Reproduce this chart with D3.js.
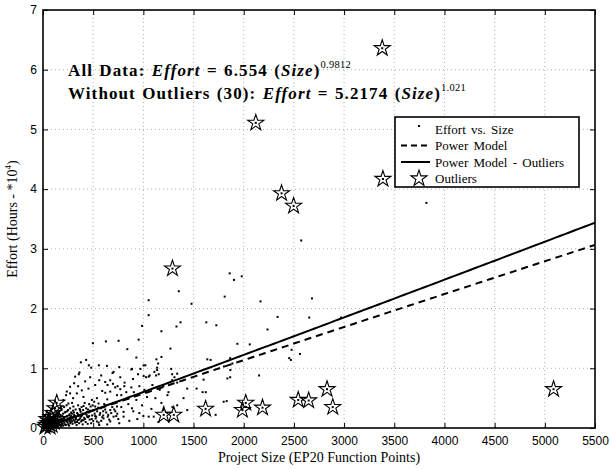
<!DOCTYPE html>
<head>
<meta charset="utf-8">
<style>
    body { margin: 0; background: #fff; }
    .tick text { font-family: "Liberation Sans", Arial, sans-serif; font-size: 12px; fill: #000; }
    .serif { font-family: "Liberation Serif", "Times New Roman", serif; fill: #000; }
</style>
</head>
<body>
    <script src="https://d3js.org/d3.v7.min.js"></script>
    <script>

    ///////////////////////////
    ////////// SETUP //////////
    ///////////////////////////

    const margin = { top: 10, right: 15, bottom: 42, left: 43 };
    const width = 610 - margin.left - margin.right;
    const height = 470 - margin.top - margin.bottom;

    let svg = d3.select('body').append('svg')
        .attr('width', 610)
        .attr('height', 470);
    let base = svg.append('g')
        .attr('transform', 'translate(' + margin.left + ',' + margin.top + ')');

    //////////////////////////
    ////////// DATA //////////
    //////////////////////////

    // x ticks (function points) and y ticks (hours * 10^4)
    const xTicks = [0, 500, 1000, 1500, 2000, 2500, 3000, 3500, 4000, 4500, 5000, 5500];
    const yTicks = [0, 1, 2, 3, 4, 5, 6, 7];

    // effort vs size, [size, effort in 10^4 hours]
    const projects = [
        [1053,2.14],[1053,1.89],[1480,2.08],[1330,1.70],[1370,1.77],[1627,1.77],[1727,1.72],[987,1.71],
        [1180,1.62],[497,1.42],[627,1.45],[753,1.46],[953,1.48],[1270,1.33],[840,1.32],[930,1.18],
        [1020,1.05],[1130,1.15],[1180,1.19],[377,1.10],[430,1.14],[457,1.05],[557,1.05],[637,1.04],
        [1353,2.29],[1810,2.20],[1860,2.59],[1903,2.48],[1980,2.54],[2573,3.14],[2680,2.17],[2167,2.12],
        [2337,1.86],[2653,1.85],[2970,1.85],[2237,1.65],[2060,1.40],[1937,1.41],[2477,1.31],[2453,1.17],
        [2470,1.14],[2560,1.24],[2153,0.88],[1637,1.15],[1865,1.17],[1867,0.97],[1600,0.81],[1865,0.85],
        [1590,0.60],[1622,0.60],[1800,0.44],[1830,0.45],[1887,1.08],[3820,3.77],[1670,1.14],[1803,1.03],
        [1837,0.83],[1720,0.22],[1437,0.66],[1337,0.38],[1437,0.30],[1530,0.66],[1053,0.19],[1103,0.19],
        [1003,1.05],[970,0.99],[887,0.99],[1147,1.08],[1137,1.01],[1137,0.97],[1153,0.90],[1127,0.88],
        [1277,0.99],[1310,0.85],[1287,0.90],[1063,0.88],[1027,0.85],[703,0.94],[770,0.85],[880,0.98],
        [947,0.90],[1053,0.86],[1110,0.94],[1337,0.91],[1287,0.80],[320,0.86],[363,0.93],[310,0.75],
        [480,1.01],[620,0.77],[670,0.80],[720,0.68],[770,0.65],[810,0.70],[880,0.68],[620,0.59],
        [670,0.61],[737,0.55],[853,0.50],[930,0.47],[1037,0.52],[1120,0.50],[1163,0.64],[1337,0.76],
        [987,0.38],[887,0.33],[803,0.27],[737,0.36],[670,0.30],[570,0.25],[553,0.41],[537,0.50],
        [487,0.47],[403,0.52],[387,0.63],[453,0.66],[520,0.72],[237,0.61],[270,0.69],[337,0.58],
        [203,0.47],[253,0.41],[303,0.36],[370,0.30],[437,0.27],[503,0.30],[603,0.16],[703,0.19],
        [803,0.19],[670,0.11],[537,0.11],[403,0.13],[303,0.19],[357,0.90],[693,0.92],[643,0.72],
        [697,0.74],[743,0.70],[813,0.76],[897,0.82],[1003,0.87],[270,0.58],[230,0.55],
        [580,0.88],[760,1.02],[905,0.60],[960,0.70],[1010,0.64],[1090,0.72],[1200,0.70],[1240,0.55],
        [1180,0.42],[1080,0.32],[960,0.25],[850,0.40],[760,0.45],[640,0.48],[590,0.62],[560,0.80],
        [470,0.85],[420,0.78],[350,0.70],[300,0.50],[460,0.40],[520,0.36],[620,0.38],[700,0.42],
        [780,0.55],[830,0.60],[1250,0.60],[1290,0.35],[1400,0.50],[1200,0.30],[940,0.15],[860,0.12],
        [760,0.08],[640,0.06],[560,0.05],[480,0.08],[450,0.18],[520,0.20],[600,0.28],[650,0.22],
        [720,0.28],[780,0.35],[900,0.28],[1000,0.20],[1150,0.10],
        [10,0.02],[15,0.05],[20,0.01],[25,0.08],[30,0.03],[35,0.12],[40,0.06],[45,0.02],[50,0.10],
        [55,0.04],[60,0.15],[65,0.07],[70,0.01],[75,0.11],[80,0.05],[85,0.18],[90,0.09],[95,0.03],
        [100,0.13],[105,0.06],[110,0.21],[115,0.10],[120,0.02],[125,0.16],[130,0.08],[135,0.25],
        [140,0.12],[145,0.04],[150,0.19],[155,0.09],[160,0.28],[165,0.14],[170,0.05],[175,0.22],
        [180,0.11],[185,0.32],[190,0.16],[195,0.07],[200,0.24],[205,0.13],[210,0.35],[215,0.18],
        [220,0.06],[225,0.27],[230,0.12],[235,0.38],[240,0.20],[245,0.09],[250,0.30],[255,0.15],
        [260,0.04],[265,0.23],[270,0.33],[275,0.10],[280,0.26],[285,0.17],[290,0.42],[295,0.07],
        [300,0.29],[305,0.14],[310,0.22],[320,0.09],[325,0.31],[330,0.18],[335,0.05],[340,0.25],
        [345,0.13],[350,0.38],[355,0.20],[360,0.08],[370,0.16],[375,0.27],[380,0.11],[385,0.35],
        [390,0.21],[395,0.06],[400,0.30],[410,0.17],[415,0.42],[420,0.24],[425,0.10],[430,0.33],
        [440,0.19],[445,0.07],[455,0.26],[465,0.14],[475,0.36],[490,0.21],[500,0.12],[510,0.44],
        [525,0.16],[540,0.28],[555,0.09],[575,0.33],[590,0.18],[610,0.40],[630,0.26],[660,0.14],
        [690,0.35],[730,0.20],[750,0.15],
        [5,0.01],[12,0.03],[18,0.06],[22,0.02],[28,0.04],[33,0.07],[38,0.01],[42,0.09],[48,0.05],
        [52,0.02],[58,0.08],[62,0.03],[68,0.12],[72,0.05],[78,0.09],[82,0.02],[88,0.06],[92,0.14],
        [98,0.08],[102,0.03],[108,0.10],[112,0.05],[118,0.13],[122,0.07],[128,0.03],[132,0.11],
        [138,0.06],[142,0.16],[148,0.09],[152,0.02],[158,0.13],[162,0.06],[168,0.18],[172,0.10],
        [178,0.03],[182,0.14],[188,0.07],[192,0.20],[198,0.11],[202,0.04],[208,0.16],[212,0.09],
        [218,0.26],[222,0.14],[228,0.05],[232,0.19],[238,0.11],[242,0.28],[248,0.16],[252,0.06],
        [258,0.21],[262,0.12],[268,0.17],[272,0.08],[278,0.20],[282,0.13],[288,0.24],[292,0.11],
        [298,0.18],[308,0.26],[315,0.12],[318,0.20],[328,0.15],[338,0.10],[348,0.23],[358,0.14],
        [365,0.32],[378,0.19],[388,0.13],[398,0.24],[405,0.37],[418,0.15],[435,0.22],[448,0.31],
        [460,0.20],[470,0.29],[485,0.15],[495,0.38],[515,0.24],[530,0.19],[550,0.34],[565,0.22],
        [580,0.12],[600,0.21],[620,0.31],[645,0.19],[680,0.25],[710,0.31],[740,0.24]
    ];

    // the 30 outliers
    const outliers = [
        [3380,6.36],[2120,5.11],[2377,3.93],[2497,3.72],[3387,4.17],[1290,2.67],[5087,0.65],
        [2020,0.42],[1987,0.30],[2187,0.34],[2543,0.47],[2647,0.46],[2830,0.65],[2887,0.35],
        [1203,0.22],[1303,0.22],[1620,0.32],
        [137,0.42],[120,0.33],[100,0.25],[80,0.18],[60,0.12],[140,0.15],[30,0.05],[50,0.08],
        [90,0.05],[110,0.10],[70,0.02],[20,0.02],[40,0.15]
    ];

    // power models: effort (hours) = a * size^b
    const modelNames = ['Power Model', 'Power Model - Outliers'];
    const modelCoef = [6.554, 5.2174];
    const modelExp = [0.9812, 1.021];
    const modelSizes = d3.range(0, 5501, 50);

    //////////////////////////
    ////////// DRAW //////////
    //////////////////////////

    const x = d3.scaleLinear().domain([0, 5500]).range([0, width]);
    const y = d3.scaleLinear().domain([0, 7]).range([height, 0]);

    // grid
    base.append('g').selectAll('line').data(xTicks.slice(1, -1)).join('line')
        .attr('x1', d => x(d)).attr('x2', d => x(d))
        .attr('y1', 0).attr('y2', height)
        .attr('stroke', '#999').attr('stroke-width', 0.8).attr('stroke-dasharray', '1,3');
    base.append('g').selectAll('line').data(yTicks.slice(1, -1)).join('line')
        .attr('y1', d => y(d)).attr('y2', d => y(d))
        .attr('x1', 0).attr('x2', width)
        .attr('stroke', '#999').attr('stroke-width', 0.8).attr('stroke-dasharray', '1,3');

    // axes, matlab style ticks inward
    let xAxis = base.append('g').attr('transform', 'translate(0,' + height + ')')
        .call(d3.axisBottom(x).tickValues(xTicks).tickFormat(d3.format('d'))
            .tickSizeInner(-5).tickSizeOuter(0).tickPadding(8));
    let yAxis = base.append('g')
        .call(d3.axisLeft(y).tickValues(yTicks).tickFormat(d3.format('d'))
            .tickSizeInner(-5).tickSizeOuter(0).tickPadding(6));
    base.append('g').attr('transform', 'translate(' + width + ',0)')
        .call(d3.axisRight(y).tickValues(yTicks).tickSizeInner(-5).tickSizeOuter(0).tickFormat(''));
    base.append('g')
        .call(d3.axisTop(x).tickValues(xTicks).tickSizeInner(-5).tickSizeOuter(0).tickFormat(''));
    base.selectAll('.domain').remove();
    base.selectAll('.tick line').attr('stroke', '#000');
    base.append('rect')
        .attr('width', width).attr('height', height)
        .attr('fill', 'none').attr('stroke', '#000').attr('stroke-width', 1.6);

    // clip for data
    svg.append('clipPath').attr('id', 'clip').append('rect')
        .attr('x', -10).attr('y', 0).attr('width', width + 10).attr('height', height + 10);
    let plot = base.append('g').attr('clip-path', 'url(#clip)');

    // dots
    plot.append('g').selectAll('rect').data(projects).join('rect')
        .attr('x', d => x(d[0]) - 1).attr('y', d => y(d[1]) - 1)
        .attr('width', 2).attr('height', 2).attr('fill', '#000');

    // model lines
    const line = d3.line().x(d => x(d[0])).y(d => y(d[1]));
    modelNames.forEach(function(name, i) {
        let pts = modelSizes.map(s => [s, modelCoef[i] * Math.pow(s, modelExp[i]) / 1e4]);
        plot.append('path')
            .attr('d', line(pts))
            .attr('fill', 'none').attr('stroke', '#000').attr('stroke-width', 2)
            .attr('stroke-dasharray', i === 0 ? '7,5' : null);
    });

    // outlier stars
    const star = d3.symbol().type(d3.symbolStar).size(80);
    let stars = plot.append('g').selectAll('g').data(outliers).join('g')
        .attr('transform', d => 'translate(' + x(d[0]) + ',' + y(d[1]) + ')');
    stars.append('path').attr('d', star)
        .attr('fill', 'none').attr('stroke', '#000').attr('stroke-width', 1.1);
    stars.append('rect').attr('x', -1).attr('y', -1).attr('width', 2).attr('height', 2).attr('fill', '#000');

    // equations
    function equation(yPos, label, coef, expo) {
        let t = svg.append('text').attr('class', 'serif')
            .attr('x', 68).attr('y', yPos)
            .attr('font-size', 17).attr('font-weight', 'bold')
            .attr('letter-spacing', 1.1).attr('word-spacing', 1);
        t.append('tspan').text(label + ' ');
        t.append('tspan').attr('font-style', 'italic').text('Effort');
        t.append('tspan').text(' = ' + coef + ' (');
        t.append('tspan').attr('font-style', 'italic').text('Size');
        t.append('tspan').text(')');
        t.append('tspan').attr('font-size', 10.5).attr('font-weight', 'normal')
            .attr('letter-spacing', 0.3).attr('dy', -8).text(expo);
    }
    equation(76, 'All Data:', '6.554', '0.9812');
    equation(99, 'Without Outliers (30):', '5.2174', '1.021');

    // legend
    let legend = svg.append('g').attr('transform', 'translate(395,117)');
    legend.append('rect').attr('width', 184).attr('height', 70)
        .attr('fill', '#fff').attr('stroke', '#000').attr('stroke-width', 1.6);
    const legendLabels = ['Effort vs. Size', 'Power Model', 'Power Model - Outliers', 'Outliers'];
    legendLabels.forEach(function(lab, i) {
        let cy = 12 + i * 16.5;
        legend.append('text').attr('class', 'serif')
            .attr('x', 40).attr('y', cy + 4.5)
            .attr('font-size', 13).attr('word-spacing', 2).text(lab);
    });
    legend.append('rect').attr('x', 23).attr('y', 8).attr('width', 2).attr('height', 2);
    legend.append('line').attr('x1', 6).attr('x2', 35).attr('y1', 28.5).attr('y2', 28.5)
        .attr('stroke', '#000').attr('stroke-width', 2).attr('stroke-dasharray', '6,4');
    legend.append('line').attr('x1', 6).attr('x2', 35).attr('y1', 45).attr('y2', 45)
        .attr('stroke', '#000').attr('stroke-width', 2);
    legend.append('path').attr('d', star).attr('transform', 'translate(24,61.5)')
        .attr('fill', 'none').attr('stroke', '#000').attr('stroke-width', 1.1);

    // axis titles
    svg.append('text').attr('class', 'serif')
        .attr('x', margin.left + width / 2).attr('y', 462)
        .attr('text-anchor', 'middle').attr('font-size', 14)
        .text('Project Size (EP20 Function Points)');
    let yt = svg.append('text').attr('class', 'serif')
        .attr('transform', 'translate(17,' + (margin.top + height / 2) + ') rotate(-90)')
        .attr('text-anchor', 'middle').attr('font-size', 14);
    yt.append('tspan').text('Effort (Hours - *10');
    yt.append('tspan').attr('font-size', 9).attr('dy', -6).text('4');
    yt.append('tspan').attr('dy', 6).text(')');

    </script>
</body>
